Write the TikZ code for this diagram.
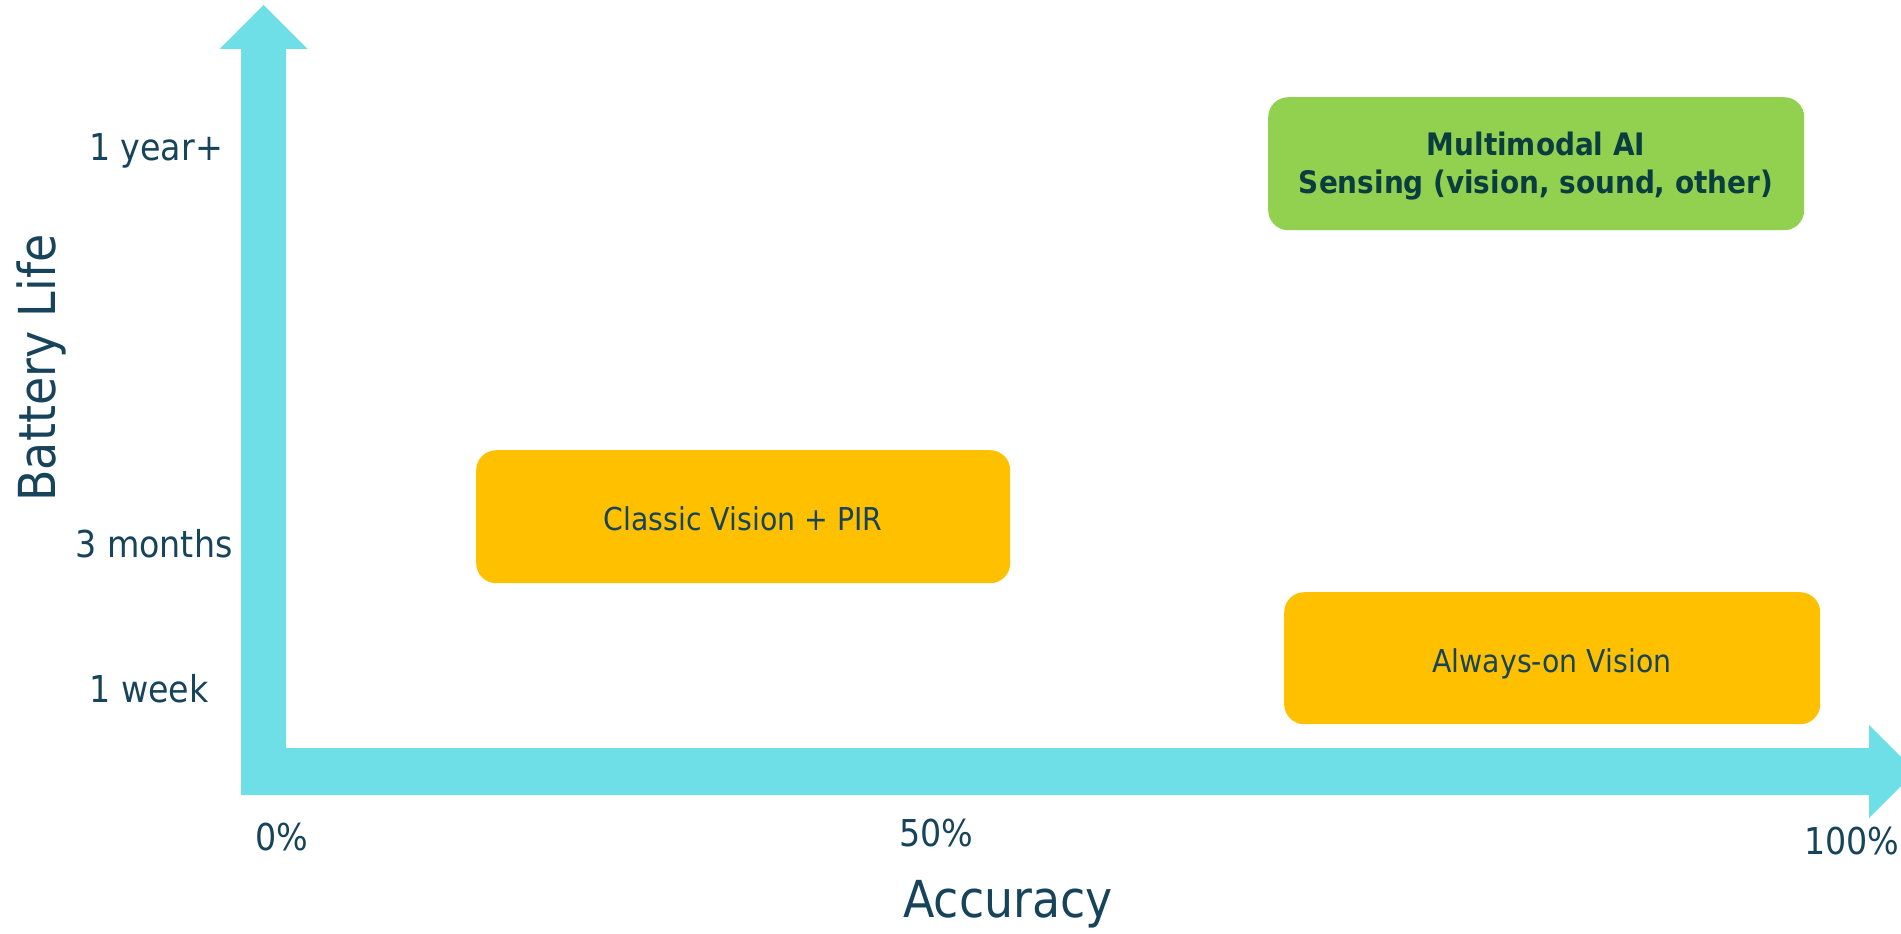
\documentclass[tikz,border=0pt]{standalone}
\usepackage{fontspec}
\setmainfont{DejaVu Sans Condensed}
\definecolor{axiscyan}{HTML}{6EDFE6}
\definecolor{boxgreen}{HTML}{92D050}
\definecolor{boxorange}{HTML}{FFC000}
\definecolor{txt}{HTML}{17445A}
\definecolor{txtbold}{HTML}{0A3D40}
\tikzset{
  lbl/.style={text=txt, inner sep=0pt, anchor=base, font=\fontsize{37}{44}\selectfont},
  axtitle/.style={text=txt, inner sep=0pt, anchor=base, font=\fontsize{51}{58}\selectfont},
  boxbase/.style={rounded corners=20pt, inner sep=0pt, anchor=north west},
  greenbox/.style={boxbase, fill=boxgreen},
  orangebox/.style={boxbase, fill=boxorange},
  boxtxt/.style={text=txt, inner sep=0pt, anchor=base, font=\fontsize{31.5}{38}\selectfont},
  boldtxt/.style={text=txtbold, inner sep=0pt, anchor=base, font=\bfseries\fontsize{31}{38}\selectfont},
}
\begin{document}
\begin{tikzpicture}[x=1pt,y=-1pt]
\useasboundingbox (0,0) rectangle (1901,934);
\begin{scope}
\clip (0,0) rectangle (1901,934);
\fill[axiscyan] (241,795) -- (241,49) -- (219.5,49) -- (263.5,5) -- (307.5,49) -- (286,49)
  -- (286,748) -- (1869,748) -- (1869,725) -- (1915.5,771.5) -- (1869,818) -- (1869,795) -- cycle;
\end{scope}
\node[greenbox, minimum width=536pt, minimum height=133pt] (mm) at (1268,97) {};
\node[boldtxt] (mm1) at (1536,155) {Multimodal AI};
\node[boldtxt] (mm2) at (1536,193) {Sensing (vision, sound, other)};
\node[orangebox, minimum width=534pt, minimum height=133pt] (cv) at (476,450) {};
\node[boxtxt] (cvt) at (743,530) {Classic Vision + PIR};
\node[orangebox, minimum width=536pt, minimum height=132pt] (ao) at (1284,592) {};
\node[boxtxt] (aot) at (1552,672) {Always-on Vision};
\node[lbl] (y1) at (156,160) {1 year+};
\node[lbl] (y2) at (154,557) {3 months};
\node[lbl] (y3) at (149,702) {1 week};
\node[axtitle, rotate=90] (bl) at (55,368) {Battery Life};
\node[lbl] (x0) at (282,850) {0\%};
\node[lbl] (x50) at (936,846) {50\%};
\node[lbl] (x100) at (1852,854) {100\%};
\node[axtitle] (acc) at (1008,917) {Accuracy};
\end{tikzpicture}
\end{document}
